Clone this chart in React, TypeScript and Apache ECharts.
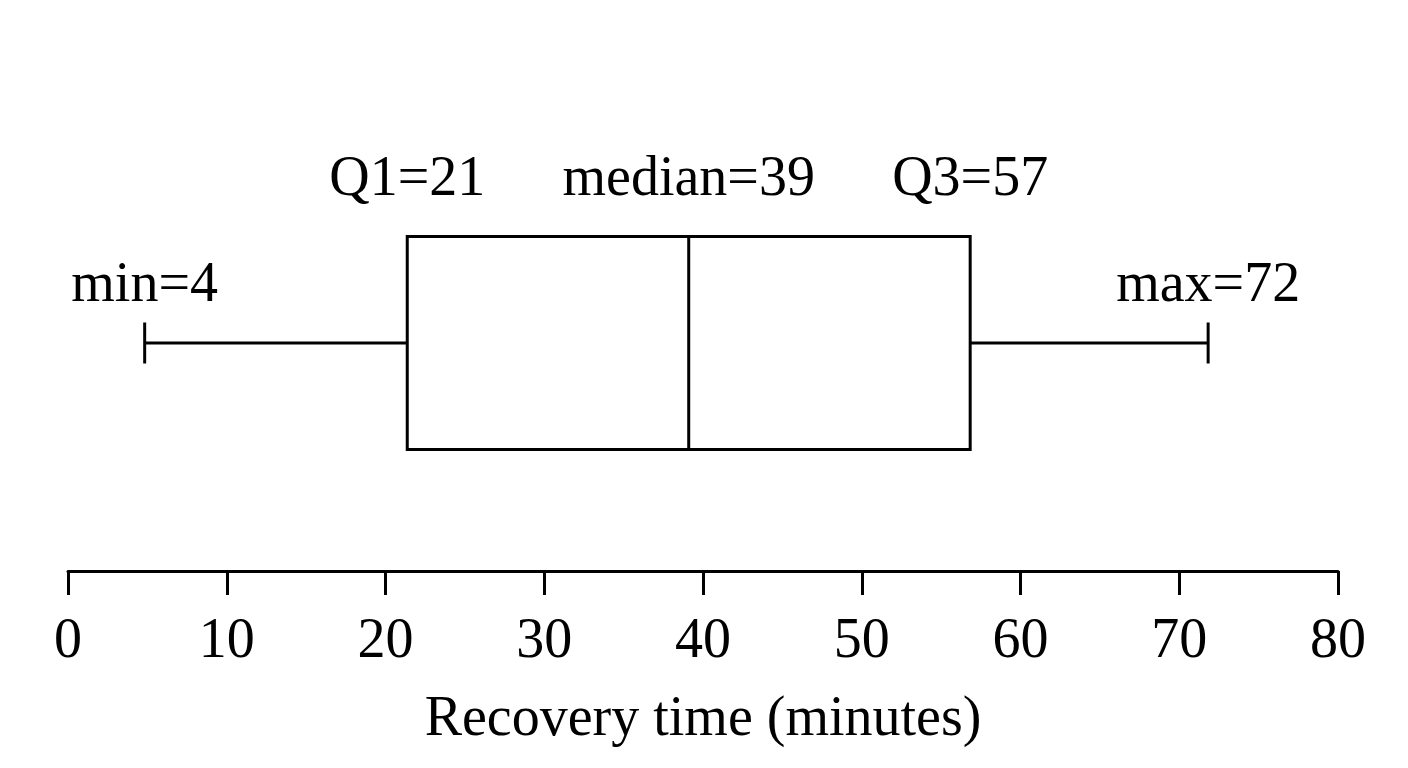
import React, { useEffect, useRef } from "react";
import * as echarts from "echarts";

const categories = ["Recovery time"];
// [min, Q1, median, Q3, max] as drawn
const boxValues = [4.83, 21.37, 39.1, 56.83, 71.82];
const boxLabels = ["min=4", "Q1=21", "median=39", "Q3=57", "max=72"];
const xTicks = { min: 0, max: 80, interval: 10 };
const axisName = "Recovery time (minutes)";

const FONT = '"Liberation Serif", "Times New Roman", serif';

export default function App() {
  const ref = useRef<HTMLDivElement>(null);
  useEffect(() => {
    if (!ref.current) return;
    const chart = echarts.init(ref.current, null, { renderer: "svg" });
    const BOX_HALF = 106.5;
    const CAP_HALF = 20.5;
    const LABEL_OFF = 61;
    const lw = 3;
    const lineStyle = { stroke: "#000", lineWidth: lw, fill: "none" };
    const textStyle = (text: string, x: number, y: number) => ({
      type: "text",
      style: {
        text,
        x,
        y,
        fill: "#000",
        font: `56px ${FONT}`,
        align: "center",
        verticalAlign: "middle",
      },
    });
    chart.setOption({
      animation: false,
      backgroundColor: "#fff",
      grid: { left: 68, right: 70, top: 115, bottom: 197 },
      xAxis: {
        type: "value",
        min: xTicks.min,
        max: xTicks.max,
        interval: xTicks.interval,
        name: axisName,
        nameLocation: "middle",
        nameGap: 117,
        nameTextStyle: { fontFamily: FONT, fontSize: 56, color: "#000" },
        axisLine: { show: true, lineStyle: { color: "#000", width: lw } },
        axisTick: { show: true, length: 24, lineStyle: { color: "#000", width: lw } },
        splitLine: { show: false },
        axisLabel: { fontFamily: FONT, fontSize: 56, color: "#000", margin: 39 },
      },
      yAxis: { type: "category", data: categories, show: false },
      series: [
        {
          type: "custom",
          data: [[0, ...boxValues]],
          encode: { x: [1, 2, 3, 4, 5], y: 0 },
          renderItem: (params: any, api: any) => {
            const cat = api.value(0);
            const pts = [1, 2, 3, 4, 5].map((i) => api.coord([api.value(i), cat]));
            const [pMin, pQ1, pMed, pQ3, pMax] = pts;
            const cy = pMin[1];
            return {
              type: "group",
              children: [
                { type: "line", shape: { x1: pMin[0], y1: cy, x2: pQ1[0], y2: cy }, style: lineStyle },
                { type: "line", shape: { x1: pQ3[0], y1: cy, x2: pMax[0], y2: cy }, style: lineStyle },
                { type: "line", shape: { x1: pMin[0], y1: cy - CAP_HALF, x2: pMin[0], y2: cy + CAP_HALF }, style: lineStyle },
                { type: "line", shape: { x1: pMax[0], y1: cy - CAP_HALF, x2: pMax[0], y2: cy + CAP_HALF }, style: lineStyle },
                {
                  type: "rect",
                  shape: { x: pQ1[0], y: cy - BOX_HALF, width: pQ3[0] - pQ1[0], height: BOX_HALF * 2 },
                  style: { stroke: "#000", lineWidth: lw, fill: "#fff" },
                },
                { type: "line", shape: { x1: pMed[0], y1: cy - BOX_HALF, x2: pMed[0], y2: cy + BOX_HALF }, style: lineStyle },
                textStyle(boxLabels[0], pMin[0], cy - LABEL_OFF),
                textStyle(boxLabels[1], pQ1[0], cy - BOX_HALF - LABEL_OFF),
                textStyle(boxLabels[2], pMed[0], cy - BOX_HALF - LABEL_OFF),
                textStyle(boxLabels[3], pQ3[0], cy - BOX_HALF - LABEL_OFF),
                textStyle(boxLabels[4], pMax[0], cy - LABEL_OFF),
              ],
            };
          },
        },
      ],
    });
    return () => chart.dispose();
  }, []);
  return (
    <div
      ref={ref}
      style={{ position: "absolute", left: 0, top: 0, width: 1408, height: 768 }}
    />
  );
}
